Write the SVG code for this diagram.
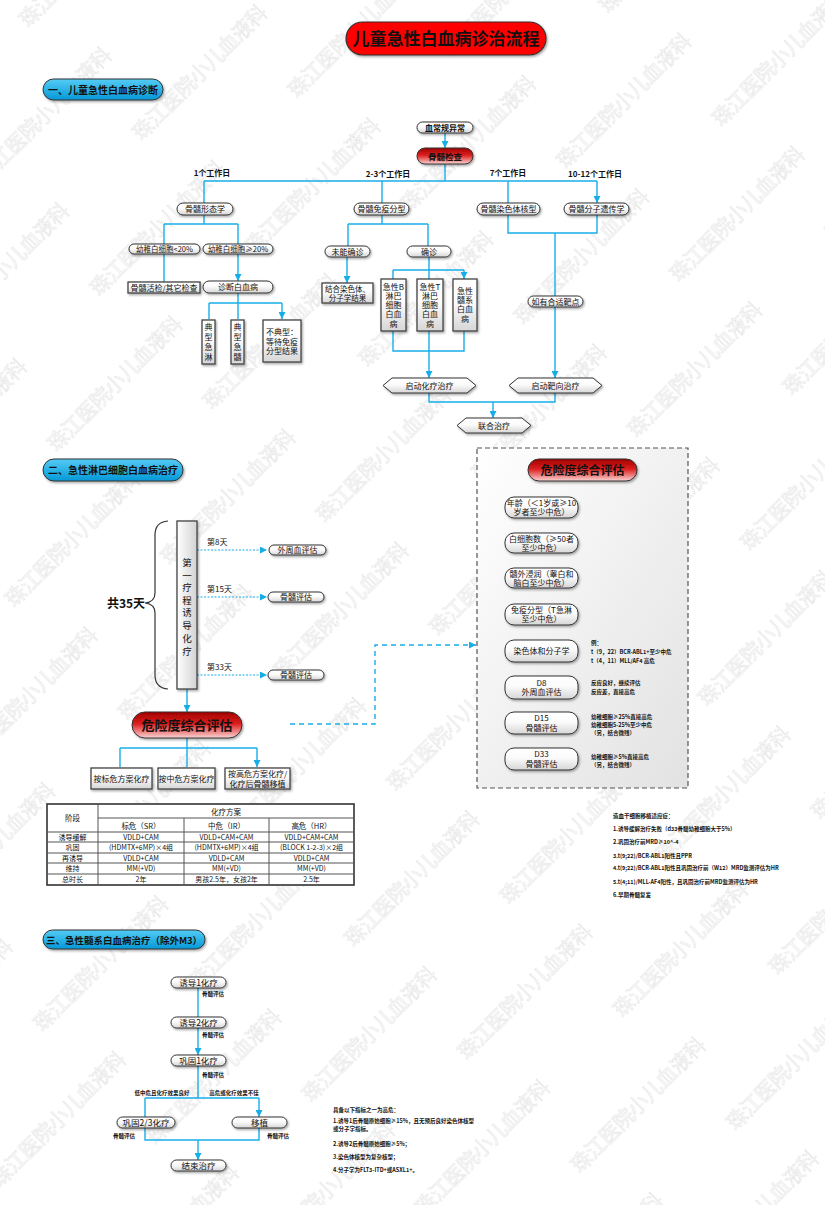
<svg xmlns="http://www.w3.org/2000/svg" width="825" height="1205" viewBox="0 0 825 1205">
<defs>
<style>
.t{font-family:"Noto Sans CJK SC","Liberation Sans",sans-serif;fill:#111;text-anchor:middle}
.s{font-size:8px}
.b{font-weight:bold}
.n{font-family:"Noto Sans CJK SC","Liberation Sans",sans-serif;fill:#111;font-size:5.5px;font-weight:bold}
.pill{fill:url(#gW);stroke:#333;stroke-width:1;filter:url(#sh)}
.box{fill:url(#gW);stroke:#444;stroke-width:1.3;filter:url(#sh)}
.ln{stroke:#17AEE8;stroke-width:1.4;fill:none}
.ar{marker-end:url(#ah)}
.dot{stroke:#17AEE8;stroke-width:1.2;fill:none;stroke-dasharray:2 1.5;marker-end:url(#ah)}
.red{fill:url(#gR);stroke:#333;stroke-width:1;filter:url(#sh)}
.blue{fill:url(#gB);stroke:#333;stroke-width:1;filter:url(#sh)}
.wm{font-family:"Noto Sans CJK SC",sans-serif;font-size:20px;fill:#fcfcfc;stroke:#dedede;stroke-width:0.5}
.tb{stroke:#555;stroke-width:1;fill:none}
</style>
<linearGradient id="gW" x1="0" y1="0" x2="0" y2="1"><stop offset="0" stop-color="#ffffff"/><stop offset="0.45" stop-color="#fbfbfb"/><stop offset="1" stop-color="#d6d6d6"/></linearGradient>
<linearGradient id="gR" x1="0" y1="0" x2="0" y2="1"><stop offset="0" stop-color="#A00000"/><stop offset="0.45" stop-color="#DD1E1E"/><stop offset="1" stop-color="#FAD4D4"/></linearGradient>
<linearGradient id="gB" x1="0" y1="0" x2="0" y2="1"><stop offset="0" stop-color="#55CCF5"/><stop offset="1" stop-color="#0498D8"/></linearGradient>
<linearGradient id="gBar" x1="0" y1="0" x2="1" y2="0"><stop offset="0" stop-color="#ffffff"/><stop offset="1" stop-color="#d2d2d2"/></linearGradient>
<linearGradient id="gBox" x1="0" y1="0" x2="1" y2="1"><stop offset="0" stop-color="#ffffff"/><stop offset="1" stop-color="#e2e2e2"/></linearGradient>
<filter id="sh" x="-15%" y="-25%" width="135%" height="170%"><feDropShadow dx="1.2" dy="1.5" stdDeviation="0.8" flood-color="#000" flood-opacity="0.35"/></filter>
<marker id="ah" viewBox="0 0 10 10" refX="10" refY="5" markerWidth="7" markerHeight="7" markerUnits="userSpaceOnUse" orient="auto"><path d="M0,0 L10,5 L0,10 z" fill="#17AEE8"/></marker>
<pattern id="wm" width="280" height="160" patternUnits="userSpaceOnUse" patternTransform="rotate(-45)">
<text class="wm" x="0" y="40">珠江医院小儿血液科</text>
<text class="wm" x="140" y="120">珠江医院小儿血液科</text>
<text class="wm" x="-140" y="120">珠江医院小儿血液科</text>
</pattern>
</defs>
<rect width="825" height="1205" fill="#ffffff"/>
<rect id="watermark" width="825" height="1205" fill="url(#wm)"/>

<g id="title"><rect x="346" y="22" width="200" height="33" rx="16.5" fill="#FF0000" stroke="#333" stroke-width="1.2" filter="url(#sh)"/><text class="t b" x="446" y="44.5" font-size="17">儿童急性白血病诊治流程</text></g>

<g id="sec1"><rect class="blue" x="43" y="79" width="120" height="21" rx="10.5"/><text class="t b" x="103" y="93.5" font-size="10">一、儿童急性白血病诊断</text></g>
<g id="sec2"><rect class="blue" x="43" y="459" width="140" height="22" rx="11"/><text class="t b" x="113" y="474" font-size="10">二、急性淋巴细胞白血病治疗</text></g>
<g id="sec3"><rect class="blue" x="43" y="930" width="162" height="19" rx="9.5"/><text class="t b" x="124" y="943.5" font-size="9.5">三、急性髓系白血病治疗（除外M3）</text></g>

<g id="connectors">
<path class="ln ar" d="M445,133V148"/>
<path class="ln" d="M445,164V181M204,181H597"/>
<path class="ln ar" d="M204,181V203M382,181V203M508,181V203M597,181V203"/>
<path class="ln" d="M204,215V224M164,224H238"/>
<path class="ln ar" d="M164,224V244M238,224V244M164,254V282M238,254V281"/>
<path class="ln" d="M238,293V303M209,303H282"/>
<path class="ln ar" d="M209,303V319M238,303V319M282,303V319"/>
<path class="ln" d="M382,215V224M348,224H428"/>
<path class="ln ar" d="M348,224V246M428,224V246M347,257V283"/>
<path class="ln" d="M429,257V270M393,270H464"/>
<path class="ln ar" d="M393,270V279M429,270V279M464,270V279"/>
<path class="ln" d="M393,331V351H464V331"/>
<path class="ln ar" d="M429,331V378"/>
<path class="ln" d="M508,215V233H597V215"/>
<path class="ln ar" d="M555,233V296M555,307V378"/>
<path class="ln" d="M429,393V402H555V393"/>
<path class="ln ar" d="M493,402V418"/>
<path class="dot" d="M197,550H267"/>
<path class="dot" d="M197,597H267"/>
<path class="dot" d="M197,675H267"/>
<path class="ln ar" d="M187,689V712"/>
<path class="ln" d="M187,738V748M120,748H257"/>
<path class="ln ar" d="M120,748V767M187,748V767M257,748V767"/>
<path class="ln ar" d="M290,724H375V645H476" stroke-dasharray="5 4"/>
<path class="ln ar" d="M541,518V533M541,553V568M541,588V604M541,625V640M541,662V676M541,699V712M541,734V748"/>
<path class="ln ar" d="M198,988V1017M198,1028V1055"/>
<path class="ln" d="M198,1066V1098M145,1098H259"/>
<path class="ln ar" d="M145,1098V1117M259,1098V1117"/>
<path class="ln" d="M145,1128V1140H259V1128"/>
<path class="ln ar" d="M198,1140V1160"/>
</g>

<g id="n_xcg"><rect class="pill" x="417" y="122" width="56" height="11" rx="5.5"/><text class="t s b" x="445" y="130.5">血常规异常</text></g>
<g id="n_gsjc"><rect class="red" x="417" y="148" width="56" height="16" rx="8"/><text class="t b" x="445" y="159.5" font-size="8.5">骨髓检查</text></g>
<g id="lbl_days" class="t s b"><text x="212" y="176">1个工作日</text><text x="388" y="177">2-3个工作日</text><text x="508" y="176">7个工作日</text><text x="595" y="177">10-12个工作日</text></g>
<g id="n_xtx"><rect class="pill" x="177" y="203" width="56" height="12" rx="6"/><text class="t s" x="205" y="212">骨髓形态学</text></g>
<g id="n_myfx"><rect class="pill" x="354" y="203" width="55" height="12" rx="6"/><text class="t s" x="381.5" y="212">骨髓免疫分型</text></g>
<g id="n_rst"><rect class="pill" x="477" y="203" width="63" height="12" rx="6"/><text class="t s" x="508.5" y="212">骨髓染色体核型</text></g>
<g id="n_fzyc"><rect class="pill" x="564" y="203" width="65" height="12" rx="6"/><text class="t s" x="596.5" y="212">骨髓分子遗传学</text></g>
<g id="n_lt20"><rect class="pill" x="129" y="244" width="71" height="10" rx="5"/><text class="t" x="164.5" y="252" font-size="7.5">幼稚白细胞&lt;20%</text></g>
<g id="n_ge20"><rect class="pill" x="203" y="244" width="70" height="10" rx="5"/><text class="t" x="238" y="252" font-size="7.5">幼稚白细胞≥20%</text></g>
<g id="n_hj"><rect class="box" x="128" y="282" width="72" height="11"/><text class="t s" x="164" y="290.5">骨髓活检/其它检查</text></g>
<g id="n_zd"><rect class="pill" x="203" y="281" width="70" height="12" rx="6"/><text class="t s" x="238" y="290">诊断白血病</text></g>
<g id="n_dxjl"><rect class="box" x="202" y="320" width="13" height="44"/><text class="t s" x="208.5" y="330">典</text><text class="t s" x="208.5" y="340">型</text><text class="t s" x="208.5" y="350">急</text><text class="t s" x="208.5" y="359.5">淋</text></g>
<g id="n_dxjs"><rect class="box" x="231" y="320" width="13" height="44"/><text class="t s" x="237.5" y="330">典</text><text class="t s" x="237.5" y="340">型</text><text class="t s" x="237.5" y="350">急</text><text class="t s" x="237.5" y="359.5">髓</text></g>
<g id="n_bdx"><rect class="box" x="263" y="320" width="38" height="42"/><text class="t s" x="282" y="335">不典型：</text><text class="t s" x="282" y="344.5">等待免疫</text><text class="t s" x="282" y="354">分型结果</text></g>
<g id="n_wnqz"><rect class="pill" x="325" y="246" width="45" height="11" rx="5.5"/><text class="t s" x="347.5" y="254.5">未能确诊</text></g>
<g id="n_qz"><rect class="pill" x="407" y="246" width="44" height="11" rx="5.5"/><text class="t s" x="429" y="254.5">确诊</text></g>
<g id="n_jh"><rect class="box" x="322" y="283" width="51" height="20"/><text class="t" x="347.5" y="291.5" font-size="7.5">结合染色体、</text><text class="t" x="347.5" y="300.5" font-size="7.5">分子学结果</text></g>
<g id="n_b"><rect class="box" x="381" y="279" width="25" height="52"/><text class="t s" x="393.5" y="290">急性B</text><text class="t s" x="393.5" y="299">淋巴</text><text class="t s" x="393.5" y="308">细胞</text><text class="t s" x="393.5" y="317">白血</text><text class="t s" x="393.5" y="327">病</text></g>
<g id="n_t"><rect class="box" x="417" y="279" width="26" height="52"/><text class="t s" x="430" y="290">急性T</text><text class="t s" x="430" y="299">淋巴</text><text class="t s" x="430" y="308">细胞</text><text class="t s" x="430" y="317">白血</text><text class="t s" x="430" y="327">病</text></g>
<g id="n_aml"><rect class="box" x="453" y="279" width="24" height="52"/><text class="t s" x="465" y="294">急性</text><text class="t s" x="465" y="303">髓系</text><text class="t s" x="465" y="312">白血</text><text class="t s" x="465" y="322">病</text></g>
<g id="n_target"><rect class="pill" x="528" y="296" width="55" height="11" rx="5.5"/><text class="t s" x="555.5" y="304.5">如有合适靶点</text></g>
<g id="n_hl"><polygon class="pill" points="383,385.5 392,378 467,378 476,385.5 467,393 392,393"/><text class="t s" x="429.5" y="389">启动化疗治疗</text></g>
<g id="n_bx"><polygon class="pill" points="509,385.5 518,378 593,378 602,385.5 593,393 518,393"/><text class="t s" x="555.5" y="389">启动靶向治疗</text></g>
<g id="n_lh"><polygon class="pill" points="457,425.5 466,418 522,418 531,425.5 522,433 466,433"/><text class="t s" x="494" y="429">联合治疗</text></g>

<g id="n_bar"><rect x="177" y="521" width="20" height="168" fill="url(#gBar)" stroke="#444" stroke-width="1.3" filter="url(#sh)"/>
<g class="t" font-size="9.5"><text x="187" y="565.5">第</text><text x="187" y="578.5">一</text><text x="187" y="591">疗</text><text x="187" y="603.5">程</text><text x="187" y="616">诱</text><text x="187" y="628.5">导</text><text x="187" y="641.5">化</text><text x="187" y="654.5">疗</text></g></g>
<g id="brace"><path d="M168,521 Q155,522 155,535 V593 Q155,602 145,603 Q155,604 155,613 V675 Q155,688 168,689" fill="none" stroke="#333" stroke-width="1.2"/><text class="t b" x="126" y="607.5" font-size="12">共35天</text></g>
<g id="lbl_day" class="t s" style="text-anchor:start"><text x="207" y="545">第8天</text><text x="207" y="592">第15天</text><text x="207" y="670">第33天</text></g>
<g id="n_d8"><rect class="pill" x="269" y="545" width="57" height="10" rx="5"/><text class="t s" x="297.5" y="553">外周血评估</text></g>
<g id="n_d15"><rect class="pill" x="268" y="592" width="56" height="10" rx="5"/><text class="t s" x="296" y="600">骨髓评估</text></g>
<g id="n_d33"><rect class="pill" x="268" y="670" width="56" height="10" rx="5"/><text class="t s" x="296" y="678">骨髓评估</text></g>
<g id="n_risk1"><rect class="red" x="132" y="712" width="110" height="26" rx="13"/><text class="t b" x="187" y="729.5" font-size="13">危险度综合评估</text></g>
<g id="n_sr"><rect class="box" x="91" y="768" width="61" height="21"/><text class="t s" x="121.5" y="781.5">按标危方案化疗</text></g>
<g id="n_ir"><rect class="box" x="158" y="768" width="57" height="21"/><text class="t s" x="186.5" y="781.5">按中危方案化疗</text></g>
<g id="n_hr"><rect class="box" x="225" y="768" width="65" height="21"/><text class="t s" x="257.5" y="777">按高危方案化疗/</text><text class="t s" x="257.5" y="787">化疗后骨髓移植</text></g>

<g id="table">
<rect x="47" y="804" width="307" height="81" fill="#ffffff" stroke="#333" stroke-width="1.6"/>
<path class="tb" d="M98,804V885M184,818V885M269,818V885M98,818H354M47,832H354M47,842H354M47,853H354M47,863H354M47,874H354"/>
<g class="t" font-size="7.5"><text x="72.5" y="821">阶段</text><text x="226" y="814.5">化疗方案</text><text x="141" y="828.5">标危（SR）</text><text x="226.5" y="828.5">中危（IR）</text><text x="311.5" y="828.5">高危（HR）</text></g>
<g class="t" font-size="7">
<text x="72.5" y="839.5">诱导缓解</text><text x="141" y="839.5">VDLD+CAM</text><text x="226.5" y="839.5">VDLD+CAM+CAM</text><text x="311.5" y="839.5">VDLD+CAM+CAM</text>
<text x="72.5" y="850">巩固</text><text x="141" y="850">(HDMTX+6MP)×4组</text><text x="226.5" y="850">(HDMTX+6MP)×4组</text><text x="311.5" y="850">(BLOCK 1-2-3)×2组</text>
<text x="72.5" y="860.5">再诱导</text><text x="141" y="860.5">VDLD+CAM</text><text x="226.5" y="860.5">VDLD+CAM</text><text x="311.5" y="860.5">VDLD+CAM</text>
<text x="72.5" y="871">维持</text><text x="141" y="871">MM(+VD)</text><text x="226.5" y="871">MM(+VD)</text><text x="311.5" y="871">MM(+VD)</text>
<text x="72.5" y="882">总时长</text><text x="141" y="882">2年</text><text x="226.5" y="882">男孩2.5年，女孩2年</text><text x="311.5" y="882">2.5年</text>
</g></g>

<g id="riskbox"><rect x="477" y="448" width="211" height="340" fill="url(#gBox)" stroke="#555" stroke-width="1.2" stroke-dasharray="5 3"/></g>
<g id="n_risk2"><rect class="red" x="528" y="459" width="109" height="22" rx="11"/><text class="t b" x="582.5" y="475" font-size="12">危险度综合评估</text></g>
<g id="r1"><rect class="pill" x="505" y="497" width="73" height="21" rx="9"/><text class="t s" x="541.5" y="505.5">年龄（＜1岁或≥10</text><text class="t s" x="541.5" y="515">岁者至少中危）</text></g>
<g id="r2"><rect class="pill" x="505" y="533" width="73" height="20" rx="9"/><text class="t s" x="541.5" y="541.5">白细胞数（≥50者</text><text class="t s" x="541.5" y="551">至少中危）</text></g>
<g id="r3"><rect class="pill" x="505" y="568" width="73" height="20" rx="9"/><text class="t s" x="541.5" y="576.5">髓外浸润（睾白和</text><text class="t s" x="541.5" y="586">脑白至少中危）</text></g>
<g id="r4"><rect class="pill" x="505" y="604" width="73" height="21" rx="9"/><text class="t s" x="541.5" y="612.5">免疫分型（T急淋</text><text class="t s" x="541.5" y="622">至少中危）</text></g>
<g id="r5"><rect class="pill" x="505" y="640" width="73" height="22" rx="9"/><text class="t s" x="541.5" y="654">染色体和分子学</text></g>
<g id="r6"><rect class="pill" x="505" y="676" width="73" height="23" rx="9"/><text class="t s" x="541.5" y="685.5">D8</text><text class="t s" x="541.5" y="695">外周血评估</text></g>
<g id="r7"><rect class="pill" x="505" y="712" width="73" height="22" rx="9"/><text class="t s" x="541.5" y="721">D15</text><text class="t s" x="541.5" y="730.5">骨髓评估</text></g>
<g id="r8"><rect class="pill" x="505" y="748" width="73" height="22" rx="9"/><text class="t s" x="541.5" y="757">D33</text><text class="t s" x="541.5" y="766.5">骨髓评估</text></g>
<g id="risknotes" class="n">
<text x="591" y="645">例：</text><text x="591" y="654">t（9，22）BCR-ABL1+至少中危</text><text x="591" y="662.5">t（4，11）MLL/AF4 高危</text>
<text x="591" y="685">反应良好，继续评估</text><text x="591" y="694">反应差，直接高危</text>
<text x="591" y="719">幼稚细胞≥25%直接高危</text><text x="591" y="727">幼稚细胞5-25%至少中危</text><text x="591" y="735">（另，结合微残）</text>
<text x="591" y="759">幼稚细胞≥5%直接高危</text><text x="591" y="767">（另，结合微残）</text>
</g>
<g id="sctnotes" class="n">
<text x="613" y="818">造血干细胞移植适应症：</text>
<text x="613" y="831">1.诱导缓解治疗失败（d33骨髓幼稚细胞大于5%）</text>
<text x="613" y="844">2.巩固治疗前MRD≥10^-4</text>
<text x="613" y="858">3.t(9;22)/BCR-ABL1阳性且PPR</text>
<text x="613" y="870">4.t(9;22)/BCR-ABL1阳性且巩固治疗前（W12）MRD监测评估为HR</text>
<text x="613" y="884">5.t(4;11)/MLL-AF4阳性，且巩固治疗前MRD监测评估为HR</text>
<text x="613" y="897">6.早期骨髓复发</text>
</g>

<g id="m_ind1"><rect class="pill" x="171" y="977" width="55" height="11" rx="5.5"/><text class="t" x="198.5" y="985.5" font-size="8.5">诱导1化疗</text></g>
<g id="m_ind2"><rect class="pill" x="171" y="1017" width="55" height="11" rx="5.5"/><text class="t" x="198.5" y="1025.5" font-size="8.5">诱导2化疗</text></g>
<g id="m_con1"><rect class="pill" x="171" y="1055" width="55" height="11" rx="5.5"/><text class="t" x="198.5" y="1063.5" font-size="8.5">巩固1化疗</text></g>
<g id="m_con23"><rect class="pill" x="117" y="1117" width="58" height="11" rx="5.5"/><text class="t" x="146" y="1125.5" font-size="8.5">巩固2/3化疗</text></g>
<g id="m_sct"><rect class="pill" x="232" y="1117" width="55" height="11" rx="5.5"/><text class="t" x="259.5" y="1125.5" font-size="8.5">移植</text></g>
<g id="m_end"><rect class="pill" x="171" y="1160" width="55" height="11" rx="5.5"/><text class="t" x="198.5" y="1168.5" font-size="8.5">结束治疗</text></g>
<g id="aml_labels" class="n">
<text x="202" y="996">骨髓评估</text><text x="202" y="1037">骨髓评估</text><text x="202" y="1077">骨髓评估</text>
<text x="162" y="1094.5" text-anchor="middle">低中危且化疗效果良好</text><text x="234" y="1094.5" text-anchor="middle">高危或化疗效果不佳</text>
<text x="113" y="1138">骨髓评估</text><text x="267" y="1138">骨髓评估</text>
</g>
<g id="amlnotes" class="n">
<text x="333" y="1112">具备以下指标之一为高危：</text>
<text x="333" y="1122.5">1.诱导1后骨髓原始细胞≥15%，且无预后良好染色体核型</text>
<text x="333" y="1130.5">或分子学指标。</text>
<text x="333" y="1146">2.诱导2后骨髓原始细胞≥5%；</text>
<text x="333" y="1159">3.染色体核型为复杂核型；</text>
<text x="333" y="1172">4.分子学为FLT3-ITD+或ASXL1+。</text>
</g>
</svg>
